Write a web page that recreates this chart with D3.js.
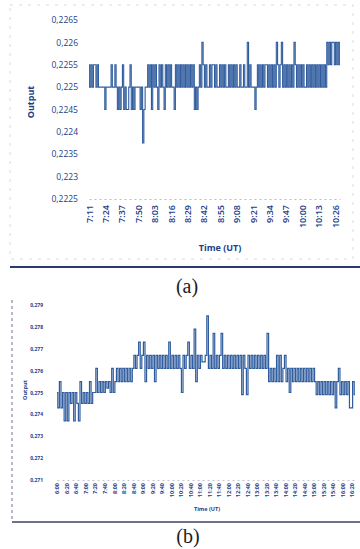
<!DOCTYPE html>
<html>
<head>
<meta charset="utf-8">
<script src="https://cdn.jsdelivr.net/npm/d3@7"></script>
<style>
  body { margin: 0; background: #fff; }
  svg { display: block; }
  text { font-family: "Open Sans", "Liberation Sans", sans-serif; }
</style>
</head>
<body>
<div id="chart"></div>
<script>
// panel (a): one value per minute from 7:11
const timeLabelsA = ["7:11", "7:24", "7:37", "7:50", "8:03", "8:16", "8:29", "8:42",
  "8:55", "9:08", "9:21", "9:34", "9:47", "10:00", "10:13", "10:26"];
const yTicksA = [0.2225, 0.223, 0.2235, 0.224, 0.2245, 0.225, 0.2255, 0.226, 0.2265];
const outputA = [
  0.2255, 0.225, 0.2255, 0.225, 0.2255, 0.2255, 0.225, 0.2255, 0.225, 0.225,
  0.225, 0.225, 0.225, 0.2245, 0.225, 0.225, 0.225, 0.225,
  0.2255, 0.225, 0.225, 0.2255, 0.225,
  0.2245, 0.225, 0.2245, 0.225, 0.2255, 0.2245, 0.225, 0.2245, 0.2245, 0.225, 0.2255, 0.2245, 0.225, 0.2245,
  0.225, 0.225, 0.225, 0.225,
  0.2245, 0.225, 0.22375, 0.2245, 0.225, 0.225,
  0.2255, 0.225, 0.2255, 0.2245, 0.2255, 0.225, 0.2255, 0.225, 0.2245, 0.2255, 0.225, 0.2255, 0.225, 0.2245,
  0.2255, 0.225, 0.2255, 0.225, 0.2255, 0.225, 0.225, 0.2245, 0.2255, 0.225, 0.2255, 0.225, 0.2255, 0.225, 0.2255, 0.225, 0.2255, 0.225,
  0.2255, 0.225, 0.2255, 0.225, 0.2255, 0.2245, 0.225, 0.2245, 0.225, 0.2255, 0.225, 0.226,
  0.2255, 0.225, 0.2255, 0.225, 0.225, 0.2255, 0.225, 0.2255, 0.2255, 0.225,
  0.2255, 0.225, 0.225, 0.2255, 0.225, 0.2255, 0.225, 0.2255, 0.225, 0.225,
  0.2255, 0.225, 0.2255, 0.225, 0.2255, 0.225, 0.2255, 0.225, 0.225, 0.2255,
  0.225, 0.225, 0.2255, 0.225, 0.225,
  0.226,
  0.225, 0.2255, 0.225, 0.225, 0.225, 0.2245, 0.225,
  0.2255, 0.225, 0.2255, 0.225, 0.2255, 0.225, 0.2255, 0.2255, 0.225, 0.2255, 0.225, 0.2255, 0.225, 0.2255, 0.225,
  0.226,
  0.2255, 0.225, 0.2255,
  0.226,
  0.225, 0.2255, 0.225, 0.2255, 0.225, 0.2255, 0.225, 0.2255, 0.225,
  0.226,
  0.2255, 0.225, 0.2255, 0.225, 0.2255, 0.225, 0.2255, 0.225, 0.225, 0.2255, 0.225, 0.2255,
  0.225, 0.2255, 0.225, 0.2255, 0.225, 0.2255, 0.225, 0.2255, 0.225, 0.2255, 0.225,
  0.2255, 0.225, 0.226, 0.2255, 0.226, 0.2255, 0.226, 0.226, 0.2255, 0.226, 0.2255, 0.226, 0.2255
];

// panel (b): labelled every 20 min, six samples per label step
const timeLabelsB = ["6:00", "6:20", "6:40", "7:00", "7:20", "7:40", "8:00", "8:20",
  "8:40", "9:00", "9:20", "9:40", "10:00", "10:20", "10:40", "11:00", "11:20", "11:40",
  "12:00", "12:20", "12:40", "13:00", "13:20", "13:40", "14:00", "14:20", "14:40",
  "15:00", "15:20", "15:40", "16:00", "16:20"];
const yTicksB = [0.271, 0.272, 0.273, 0.274, 0.275, 0.276, 0.277, 0.278, 0.279];
const outputB = [
  0.2750, 0.2743, 0.2755, 0.2743, 0.2750, 0.2737, 0.2750, 0.2737,
  0.2750, 0.2745, 0.2750, 0.2737, 0.2750, 0.2745, 0.2737, 0.2755, 0.2745, 0.2750, 0.2745, 0.2750, 0.2745, 0.2755, 0.2745, 0.2750,
  0.2750, 0.2761, 0.2750, 0.2755, 0.2750, 0.2755, 0.2750, 0.2755, 0.2752, 0.2755, 0.2750, 0.2761, 0.2750, 0.2755,
  0.2761, 0.2755, 0.2761, 0.2755, 0.2761, 0.2755, 0.2761, 0.2755, 0.2761, 0.2755, 0.2761,
  0.2767, 0.2761, 0.2767, 0.2773, 0.2761, 0.2767, 0.2773, 0.2755, 0.2767, 0.2761,
  0.2767, 0.2761, 0.2767, 0.2755, 0.2767, 0.2761, 0.2767, 0.2761, 0.2767, 0.2761,
  0.2767, 0.2761, 0.2773, 0.2761, 0.2767, 0.2761, 0.2767, 0.2761, 0.2767, 0.2761,
  0.2750, 0.2767, 0.2761, 0.2767, 0.2773, 0.2761, 0.2767, 0.2761, 0.2779, 0.2755,
  0.2767, 0.2761, 0.2767,
  0.2764, 0.2764,
  0.2767, 0.2785, 0.2761, 0.2767, 0.2761, 0.2777, 0.2761, 0.2767, 0.2761, 0.2767,
  0.2777, 0.2761, 0.2767, 0.2761, 0.2767, 0.2761, 0.2767, 0.2761, 0.2767, 0.2761,
  0.2767, 0.2761, 0.2767, 0.2749, 0.2767, 0.2761, 0.2749, 0.2767, 0.2761, 0.2767,
  0.2761, 0.2767, 0.2761, 0.2767, 0.2761, 0.2767, 0.2761, 0.2767,
  0.2761, 0.2777, 0.2755,
  0.2761, 0.2755, 0.2761, 0.2755, 0.2767, 0.2755, 0.2767, 0.2755, 0.2761, 0.2767,
  0.2755, 0.2761, 0.2750, 0.2761, 0.2755, 0.2761, 0.2755, 0.2761, 0.2755, 0.2761,
  0.2755, 0.2761, 0.2755, 0.2761, 0.2755, 0.2761, 0.2755, 0.2761,
  0.2755, 0.2749, 0.2755, 0.2749, 0.2755, 0.2749, 0.2755, 0.2749, 0.2755, 0.2749,
  0.2755, 0.2749, 0.2755, 0.2743, 0.2755, 0.2761, 0.2749, 0.2755, 0.2749, 0.2755,
  0.2749, 0.2755, 0.2743, 0.2743, 0.2755, 0.2749
];

const width = 360, height = 549;
const lineColor = "#2f5c9e";
const textColor = "#22408a";
const comma = v => String(v).replace(".", ",");

const svg = d3.select("#chart").append("svg")
  .attr("width", width)
  .attr("height", height);

svg.append("rect").attr("width", width).attr("height", height).attr("fill", "#fff");

// ---------- (a) ----------
const chartA = svg.append("g");

chartA.append("rect")
  .attr("x", 10).attr("y", 5).attr("width", 343).attr("height", 254)
  .attr("fill", "none").attr("stroke", "#c9ccd6").attr("stroke-width", 0.7)
  .attr("stroke-dasharray", "3,6");

const xA = d3.scalePoint().domain(d3.range(outputA.length)).range([89, 340]);
const yA = d3.scaleLinear().domain([0.2225, 0.2265]).range([199, 20]);

const xAxisA = d3.axisBottom(xA)
  .tickValues(timeLabelsA.map((d, i) => i * 13))
  .tickFormat((d, i) => timeLabelsA[i])
  .tickSize(0);
const gxA = chartA.append("g").attr("transform", "translate(0,199)").call(xAxisA);
gxA.select(".domain").attr("stroke", "#b8bcc8").attr("stroke-dasharray", "2,3");
gxA.selectAll("text")
  .attr("transform", "rotate(-90)")
  .attr("text-anchor", "end")
  .attr("x", -6).attr("y", 0).attr("dy", "0.35em")
  .attr("fill", textColor)
  .style("font-size", "9px").style("font-weight", 600);

const yAxisA = d3.axisLeft(yA).tickValues(yTicksA).tickFormat(comma).tickSize(0);
const gyA = chartA.append("g").attr("transform", "translate(78,0)").call(yAxisA);
gyA.select(".domain").remove();
gyA.selectAll("text")
  .attr("x", 0)
  .attr("fill", textColor)
  .style("font-size", "8.5px");

// dense minute samples: drawn as steps so that the blocks read as in the scan
chartA.append("path")
  .datum(outputA)
  .attr("fill", "none")
  .attr("stroke", lineColor)
  .attr("stroke-width", 1.1)
  .attr("d", d3.line().curve(d3.curveStep).x((d, i) => xA(i)).y(d => yA(d)));

chartA.append("text")
  .attr("transform", "translate(34,102) rotate(-90)")
  .attr("text-anchor", "middle")
  .attr("fill", textColor)
  .style("font-size", "9px").style("font-weight", 700)
  .text("Output");

chartA.append("text")
  .attr("x", 220).attr("y", 251)
  .attr("text-anchor", "middle")
  .attr("fill", textColor)
  .style("font-size", "9px").style("font-weight", 700)
  .text("Time (UT)");

svg.append("line")
  .attr("x1", 10).attr("x2", 360).attr("y1", 267).attr("y2", 267)
  .attr("stroke", "#283b6e").attr("stroke-width", 2);

svg.append("text")
  .attr("x", 187).attr("y", 293)
  .attr("text-anchor", "middle")
  .attr("fill", "#1c1c24")
  .style("font-family", "'Liberation Serif', 'DejaVu Serif', serif")
  .style("font-size", "20px")
  .text("(a)");

// ---------- (b) ----------
const chartB = svg.append("g");

chartB.append("line")
  .attr("x1", 12).attr("x2", 12).attr("y1", 300).attr("y2", 522)
  .attr("stroke", "#6d7387").attr("stroke-width", 1).attr("stroke-dasharray", "3,3");
chartB.append("line")
  .attr("x1", 12).attr("x2", 360).attr("y1", 522).attr("y2", 522)
  .attr("stroke", "#3c4560").attr("stroke-width", 1.3);

const xB = d3.scalePoint().domain(d3.range(outputB.length)).range([57, 355]);
const yB = d3.scaleLinear().domain([0.271, 0.279]).range([480, 305]);

const xAxisB = d3.axisBottom(xB)
  .tickValues(timeLabelsB.map((d, i) => i * 6))
  .tickFormat((d, i) => timeLabelsB[i])
  .tickSize(0);
const gxB = chartB.append("g").attr("transform", "translate(0,480)").call(xAxisB);
gxB.select(".domain").attr("stroke", "#c3c6d0").attr("stroke-dasharray", "2,3");
gxB.selectAll("text")
  .attr("transform", "rotate(-90)")
  .attr("text-anchor", "end")
  .attr("x", -3).attr("y", 0).attr("dy", "0.35em")
  .attr("fill", textColor)
  .style("font-size", "5.5px").style("font-weight", 700);

const yAxisB = d3.axisLeft(yB).tickValues(yTicksB).tickFormat(comma).tickSize(0);
const gyB = chartB.append("g").attr("transform", "translate(43,0)").call(yAxisB);
gyB.select(".domain").remove();
gyB.selectAll("text")
  .attr("x", 0)
  .attr("fill", textColor)
  .style("font-size", "5px").style("font-weight", 700);

chartB.append("path")
  .datum(outputB)
  .attr("fill", "none")
  .attr("stroke", lineColor)
  .attr("stroke-width", 1.2)
  .attr("d", d3.line().curve(d3.curveStep).x((d, i) => xB(i)).y(d => yB(d)));

chartB.append("text")
  .attr("transform", "translate(27,390) rotate(-90)")
  .attr("text-anchor", "middle")
  .attr("fill", textColor)
  .style("font-size", "5.5px").style("font-weight", 700)
  .text("Output");

chartB.append("text")
  .attr("x", 207).attr("y", 511)
  .attr("text-anchor", "middle")
  .attr("fill", textColor)
  .style("font-size", "5.5px").style("font-weight", 700)
  .text("Time (UT)");

svg.append("text")
  .attr("x", 188).attr("y", 543)
  .attr("text-anchor", "middle")
  .attr("fill", "#1c1c24")
  .style("font-family", "'Liberation Serif', 'DejaVu Serif', serif")
  .style("font-size", "20px")
  .text("(b)");
</script>
</body>
</html>
